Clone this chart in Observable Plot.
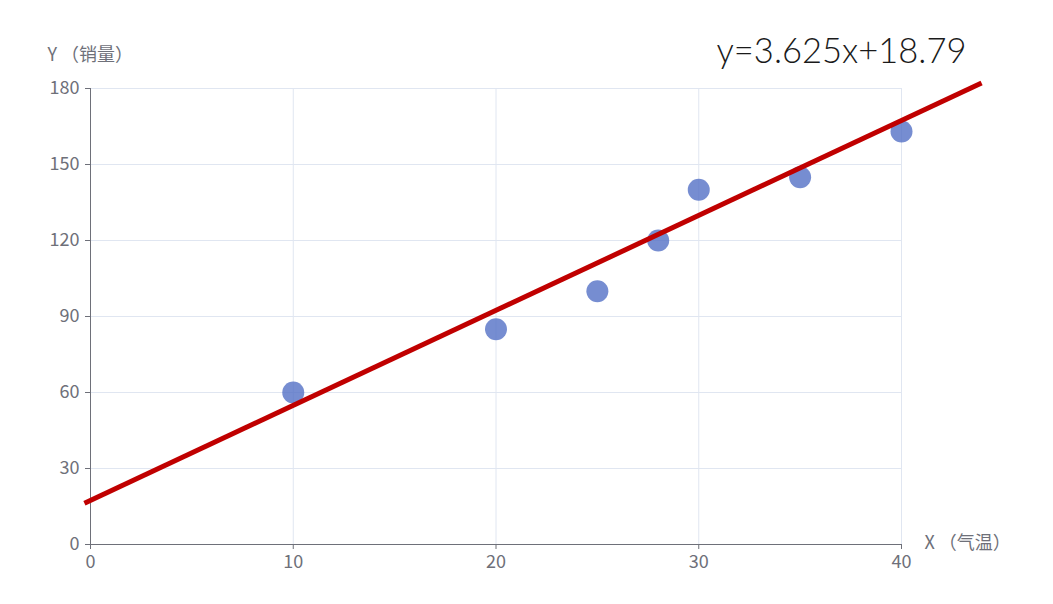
<!DOCTYPE html>
<html>
<head>
<meta charset="utf-8">
<script src="https://cdn.jsdelivr.net/npm/d3@7"></script>
<script src="https://cdn.jsdelivr.net/npm/@observablehq/plot@0.6"></script>
<style>
  html, body { margin: 0; padding: 0; background: #fff; }
</style>
</head>
<body>
<div id="chart"></div>
<script>
// Data
const temperature = [10, 20, 25, 28, 30, 35, 40];
const sales = [60, 85, 100, 120, 140, 145, 163];
// Fitted line as drawn in the picture (end points)
const fitX = [-0.3, 43.95];
const fitY = [16.3, 182.2];
const xTicks = [0, 10, 20, 30, 40];
const yTicks = [0, 30, 60, 90, 120, 150, 180];
const equation = "y=3.625x+18.79";
const xTitle = "X （气温）";
const yTitle = "Y （销量）";

const points = temperature.map((t, i) => ({x: t, y: sales[i]}));
const fit = fitX.map((x, i) => ({x, y: fitY[i]}));

const axisColor = "#6e7079";
const gridColor = "#e0e6f1";
const font = "'Noto Sans CJK SC', 'Noto Sans', sans-serif";

const chart = Plot.plot({
  width: 1053,
  height: 604,
  marginLeft: 90,
  marginRight: 152,
  marginTop: 88,
  marginBottom: 60,
  style: {fontFamily: font, fontSize: "18px", color: axisColor, background: "#fff", overflow: "visible"},
  x: {domain: [0, 40]},
  y: {domain: [0, 180]},
  marks: [
    Plot.gridX(xTicks.filter(d => d > 0), {stroke: gridColor, strokeOpacity: 1}),
    Plot.gridY(yTicks.filter(d => d > 0), {stroke: gridColor, strokeOpacity: 1}),
    Plot.axisX(xTicks, {tickSize: 5, tickPadding: 6, stroke: axisColor, fill: axisColor, label: null, fontSize: 18}),
    Plot.axisY(yTicks, {tickSize: 5, tickPadding: 6, stroke: axisColor, fill: axisColor, label: null, fontSize: 18}),
    Plot.ruleX([0], {stroke: axisColor, strokeWidth: 1}),
    Plot.ruleY([0], {stroke: axisColor, strokeWidth: 1}),
    Plot.dot(points, {x: "x", y: "y", r: 11, fill: "#5470c6", fillOpacity: 0.8, stroke: null}),
    Plot.line(fit, {x: "x", y: "y", stroke: "#c00000", strokeWidth: 5, strokeLinecap: "butt"}),
    Plot.text([yTitle], {frameAnchor: "top-left", lineAnchor: "middle", dx: -43, dy: -33, textAnchor: "start", fill: axisColor, fontSize: 18}),
    Plot.text([xTitle], {frameAnchor: "bottom-right", lineAnchor: "middle", dx: 23, dy: -1, textAnchor: "start", fill: axisColor, fontSize: 18}),
    Plot.text([equation], {frameAnchor: "top-right", lineAnchor: "middle", dx: 65, dy: -37, textAnchor: "end", fill: "#1a1a1a", fontSize: 36, fontWeight: 300, fontFamily: "Lato, Roboto, sans-serif", className: "eq"})
  ]
});
document.getElementById("chart").appendChild(chart);
d3.select(chart).selectAll(".eq text").attr("textLength", 250).attr("lengthAdjust", "spacingAndGlyphs");
</script>
</body>
</html>
